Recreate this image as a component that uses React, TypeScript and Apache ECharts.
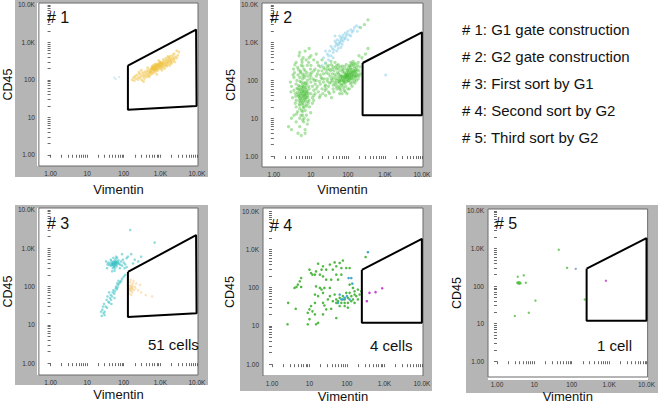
import React, { useEffect, useRef } from 'react';
import * as echarts from 'echarts';

// ---------- tick labels ----------
const TICK_VALUES = [1, 10, 100, 1000, 10000];
const TICK_LABELS = ['1.00', '10', '100', '1.0K', '10.0K'];
const MINOR_MULTIPLIERS = [2, 3, 4, 5, 6, 7, 8, 9];
const X_NAME = 'Vimentin';
const Y_NAME = 'CD45';
const PANEL_TITLES = ['# 1', '# 2', '# 3', '# 4', '# 5'];
const CELL_COUNTS = ['', '', '51 cells', '4 cells', '1 cell'];
const LEGEND_LINES = [
  '# 1: G1 gate construction',
  '# 2: G2 gate construction',
  '# 3: First sort by G1',
  '# 4: Second sort by G2',
  '# 5: Third sort by G2',
];

// ---------- gates (Vimentin, CD45) ----------
const GATE_G1 = [[130, 240], [9500, 2200], [9800, 20], [130, 16], [130, 240]];
const GATE_G2 = [[250, 290], [10000, 1880], [10000, 12], [250, 12], [250, 290]];

// ---------- panel 1 ----------
const P1_YELLOW = [
  [170,100],[185,115],[195,95],[205,125],[215,108],[230,135],[245,102],[255,118],[270,145],[285,112],
  [300,130],[310,98],[325,155],[340,122],[350,140],[365,108],[380,165],[390,128],[405,148],[420,118],
  [435,175],[450,138],[465,158],[480,128],[495,185],[510,148],[530,168],[550,138],[570,205],[590,158],
  [610,182],[630,148],[650,215],[670,172],[690,198],[710,162],[730,235],[750,188],[770,208],[790,172],
  [810,255],[830,198],[850,228],[870,182],[900,248],[920,208],[950,268],[980,218],[1000,238],[1020,198],
  [1050,285],[1080,228],[1100,258],[1130,212],[1160,298],[1200,248],[1230,278],[1260,228],[1300,318],[1340,258],
  [1380,288],[1420,242],[1460,338],[1500,278],[1550,308],[1600,258],[1650,355],[1700,298],[1760,328],[1820,278],
  [1880,375],[1950,318],[2000,348],[2100,298],[2200,395],[2300,338],[2400,368],[2600,415],[2800,378],[3000,448],
  [900,330],[1100,180],[700,260],[500,120],[1400,380],[1800,240],[600,230],[1200,350],[2500,300],[800,140],
  [300,180],[1000,300],[1300,200],[1600,420],[2000,270],[450,210],[350,90],[260,160],[1500,230],[1700,400],
  [620,200],[680,225],[720,190],[760,240],[820,215],[880,265],[940,230],[560,180],[600,210],[660,185],
  [740,205],[780,260],[840,240],[960,290],[1040,250],[1120,275],[540,160],[580,195],[640,240],[700,210],
  [3200,550],[2800,600],[2400,500],[2200,460],[1900,430],
];
const P1_OTHER = [[55,115],[75,118],[60,105]];

// ---------- panel 2 ----------
const P2_GREEN = [
  [6,40],[5,35],[7,45],[6,55],[5.5,30],[6.5,38],[7,60],[4.5,42],[5,50],[6,25],[7.5,35],[5,70],[6,80],[4,30],
  [8,50],[6.5,20],[5.5,90],[7,28],[4.5,60],[6,110],[5,18],[8,40],[3.8,45],[7,75],[6,150],[5,120],[9,60],[4,80],
  [6.5,200],[5.5,250],[7,180],[4.5,140],[8,100],[3.5,55],[9,30],[5,22],[6,15],[7,16],[4,20],[10,45],[11,70],
  [8.5,25],[3.2,35],[5.8,300],[6.2,400],[7.5,350],[4.8,450],[8,250],[6.8,120],[5.2,160],[9.5,150],[4.2,100],
  [3.5,120],[10,90],[7.2,85],[6.4,65],[5.6,48],[4.6,38],[7.8,55],[8.8,70],[3.8,25],[5.4,12],[6.6,10],[4.4,15],
  [9.2,20],[11,35],[12,55],[10,130],[3,70],[3.4,200],[4,300],[5,550],[7,600],[9,400],[10,250],[12,180],[6,33],
  [6,46],[5,40],[7,40],[6,70],[5.3,27],[6.8,32],[7.6,48],[4.9,57],[5.7,65],[6.3,52],[6.9,42],[5.1,33],[4.3,48],
  [8.2,36],[5.9,23],[7.3,23],[6.1,130],[8.3,130],[4.7,190],[9.8,200],[11.5,110],[3.6,160],[2.8,90],[13,80],
  [12,40],[14,60],
  [5.2,44],[6.7,51],[5.8,37],[7.1,33],[4.8,29],[6.2,28],[5.4,58],[7.4,66],[4.7,73],[6.6,88],[5.1,95],[7.9,82],
  [4.2,62],[8.6,45],[3.9,38],[6.3,19],[5.6,16],[7.7,21],[4.9,24],[8.1,28],[6.9,140],[5.3,175],[7.8,160],[4.4,220],
  [6.1,240],[8.7,300],[5.7,350],[3.7,260],[9.4,110],[10.5,160],[3.3,140],[2.9,50],[11,25],[9.9,14],[4.1,13],
  [6.4,8],[5,10],[7.6,12],[8.4,9],[12.5,100],
  [4,8],[5,6],[6,9],[3,10],[7,5],[4.5,4],[8,7],[3.5,12],[5.5,3.5],[2.5,6],[6,12],[7,4],[3,5],
  [13,45],[15,70],[14,100],[16,50],[18,80],[17,35],[19,120],[20,60],[15,150],[22,90],[13,200],[16,250],[18,40],
  [21,45],[25,75],[23,110],[12,30],[20,180],[24,55],[17,95],
  [14,130],[16,180],[18,140],[20,110],[22,150],[24,200],[26,160],[28,230],[30,150],[32,200],[34,180],[36,260],
  [38,200],[42,180],[46,220],[50,250],[55,210],[62,230],[70,200],[80,230],[12,350],[10,450],[14,500],[9,700],
  [80,110],[70,100],[90,120],[100,130],[60,90],[110,140],[75,80],[85,150],[95,95],[65,120],[120,160],[130,110],
  [55,70],[50,100],[45,80],[40,60],[35,90],[30,70],[28,110],[33,130],[38,150],[42,50],[48,130],[52,160],[58,60],
  [62,140],[68,75],[72,170],[78,130],[82,90],[88,70],[92,160],[98,180],[105,100],[115,120],[125,200],[140,150],
  [150,180],[160,130],[170,220],[145,240],[135,90],[105,220],[90,200],[75,190],[60,180],[50,200],[40,120],[30,50],
  [25,40],[100,60],[120,80],[150,100],[110,250],[130,280],[80,55],[95,45],[70,45],[55,110],[65,55],[85,85],
  [100,100],[115,90],[125,140],[140,120],[155,160],[175,150],[165,190],[110,180],[95,140],[80,160],[72,115],
  [66,105],[58,125],[46,110],[38,100],[44,145],[52,85],[62,65],[76,65],[88,105],[96,115],[104,160],[118,200],
  [132,170],[148,210],[160,280],[180,250],[26,60],[32,45],[36,35],[120,300],[140,320],[90,260],[70,240],[85,125],
  [92,135],[78,98],[68,130],[106,118],[112,108],[126,128],[58,95],[48,70],
  [75,95],[82,120],[88,140],[95,125],[102,150],[108,130],[115,150],[122,110],[128,165],[135,135],[142,175],
  [150,140],[158,120],[165,170],[172,130],[180,190],[190,140],[60,100],[64,80],[70,130],[56,150],[50,60],[44,90],
  [40,75],[36,110],[32,85],[28,95],[24,70],[60,45],[85,50],[110,60],[130,70],[155,85],[170,100],[190,110],
  [200,130],[145,270],[115,230],[100,190],[125,250],
  [15,300],[20,350],[25,280],[30,250],[35,320],[40,230],[45,300],[22,220],[28,190],[18,230],[55,260],[200,180],
  [220,150],[190,300],[210,230],[240,400],[300,500],[350,700],[200,450],[280,3000],[350,4000],[220,2500],
];
const P2_CYAN = [
  [20,250],[25,300],[22,400],[30,350],[28,500],[35,450],[32,600],[40,550],[38,700],[45,800],[42,650],[50,900],
  [48,1000],[55,850],[52,1200],[60,1100],[58,950],[65,1300],[62,1000],[70,1400],[68,1150],[75,1600],[80,1300],
  [85,1800],[90,1500],[100,2000],[95,1700],[110,1600],[120,2200],[130,1900],[150,2500],[170,2800],[200,2600],
  [180,2000],[45,1100],[55,700],[35,800],[40,400],[60,1500],[70,900],[50,600],[30,450],[65,750],[75,1100],
  [85,1300],[100,1200],[120,1500],[140,2100],[25,600],[45,1500],[1050,140],
];

// ---------- panel 3 ----------
const P3_TEAL = [
  [55,400],[50,380],[60,420],[45,350],[65,450],[58,360],[52,440],[48,410],[62,380],[56,470],[42,400],[68,390],
  [54,330],[46,460],[60,520],[70,430],[40,360],[64,340],[50,300],[58,300],[72,480],[38,420],[44,500],[66,560],
  [52,560],[75,400],[80,370],[36,380],[62,600],[48,250],[56,260],[85,450],[90,350],[100,420],[110,380],[120,320],
  [35,300],[33,450],[78,300],[95,500],[105,300],[53,415],[57,390],[61,405],[49,395],[47,370],[59,445],[63,425],
  [51,355],[55,345],
  [25,17],[28,20],[26,25],[30,22],[32,30],[29,35],[35,28],[38,40],[34,45],[40,38],[42,50],[45,45],[44,60],
  [48,55],[50,70],[55,65],[52,80],[58,75],[60,90],[65,85],[62,100],[70,110],[68,95],[75,120],[80,130],[85,140],
  [90,160],[27,30],[36,55],[46,35],[56,50],[72,140],[24,22],[30,18],[66,120],[40,70],[100,180],[110,200],
  [130,600],[160,700],[200,500],[250,450],[150,3000],[700,1400],[120,550],[90,700],[300,600],[180,400],
];
const P3_ORANGE = [
  [150,90],[160,100],[170,85],[140,80],[165,110],[175,95],[155,75],[180,120],[145,105],[190,80],[160,60],
  [150,130],[135,95],[200,100],[170,70],[185,140],[210,90],[140,65],[155,150],[130,110],[250,80],[300,70],
  [400,60],[600,55],[220,120],[280,110],[160,90],[170,100],[150,85],[165,80],
];

// ---------- panel 4 ----------
const P4_GREEN = [
  [17,420],[23,360],[35,400],[47,455],[64,440],[78,510],[52,360],[42,295],[71,325],[96,325],[118,325],[28,295],
  [21,295],[15,265],[14,218],[19,218],[23,197],[28,161],[38,161],[52,218],[71,218],[58,161],[19,98],[25,98],
  [35,98],[15,108],[23,73],[14,66],[17,60],[35,60],[47,66],[10,294],[11,240],[12,218],
  [6,178],[5.5,146],[4.9,120],[4.5,104],[6,104],[4,98],
  [2.7,40],[2.6,11],[4.3,28],
  [14,40],[11,33],[10,27],[12,24],[9,22],[14,20],[10,15],[9,11],[15,11],[17,12],[23,20],[28,27],[25,34],[38,28],
  [52,40],[52,16],[64,33],[87,33],[106,30],[23,40],[31,49],[21,89],
  [118,120],[145,98],[160,80],[196,89],[218,66],[177,60],[131,60],[106,54],[87,49],[145,49],[196,49],[96,73],
  [118,73],[160,66],[241,80],[78,60],[64,54],[58,44],[71,40],[42,44],[52,49],[131,44],[106,40],[87,40],[160,40],
  [315,630],
];
const P4_CYAN = [
  [111,178],[131,178],[100,60],[78,49],[87,54],[71,49],[58,40],[118,49],[64,66],[363,840],[139,127],
];
const P4_MAGENTA = [[400,73],[580,76],[875,96],[340,44]];

// ---------- panel 5 ----------
const P5_GREEN = [
  [3.9,121],[3.7,118],[4.1,124],[3.5,123],[4.3,119],[3.8,127],[4.0,115],[3.6,120],
  [3.6,177],[5.2,192],[5.9,123],[10.7,41],[7.1,19.5],[3,16],[45,920],[75,305],[222,44],
];
const P5_BLUE = [[128,287]];
const P5_MAGENTA = [[820,139]];

// ---------- layout (positions only) ----------
const LAYOUT = [
  { frame: [15, 0, 193, 177], grid: [37, 3, 161, 163], xr: [-0.32, 4.03], yr: [-0.3, 4.05], xGap: 17, yGap: 23, title: [47, 17], cells: null },
  { frame: [240, 0, 192, 177], grid: [262, 3, 161, 164], xr: [-0.32, 4.03], yr: [-0.29, 4.05], xGap: 16, yGap: 24, title: [270, 17], cells: null },
  { frame: [15, 205, 193, 180], grid: [37, 208, 161, 167], xr: [-0.32, 4.03], yr: [-0.31, 4.05], xGap: 13, yGap: 23, title: [47, 223], cells: [148, 344] },
  { frame: [240, 205, 192, 186], grid: [263, 208, 160, 169], xr: [-0.24, 4.03], yr: [-0.31, 4.08], xGap: 14, yGap: 27, title: [270, 225], cells: [370, 345] },
  { frame: [466, 205, 192, 188], grid: [488, 209, 160, 171], xr: [-0.24, 4.03], yr: [-0.42, 4.05], xGap: 13, yGap: 25, title: [495, 223], cells: [597, 345] },
];

const FONT = '"Liberation Sans", Arial, Helvetica, sans-serif';

const toLog = (pts: number[][]) => pts.map(([x, y]) => [Math.log10(x), Math.log10(y)]);

const MAJOR_POS = TICK_VALUES.map((v) => Math.log10(v));
const MINOR_POS: number[] = [];
TICK_VALUES.slice(0, 4).forEach((d) => MINOR_MULTIPLIERS.forEach((m) => MINOR_POS.push(Math.log10(d * m))));
const ALL_TICKS = [...MAJOR_POS, ...MINOR_POS];

const fmt = (v: number) => {
  const i = MAJOR_POS.findIndex((p) => Math.abs(p - v) < 1e-6);
  return i >= 0 ? TICK_LABELS[i] : '';
};

export default function App() {
  const ref = useRef<HTMLDivElement>(null);
  useEffect(() => {
    if (!ref.current) return;
    const chart = echarts.init(ref.current, undefined, { renderer: 'svg' });

    const grids: any[] = [];
    const xAxes: any[] = [];
    const yAxes: any[] = [];
    const graphics: any[] = [];

    LAYOUT.forEach((L, i) => {
      grids.push({ left: L.grid[0], top: L.grid[1], width: L.grid[2], height: L.grid[3], show: true, backgroundColor: 'transparent', borderColor: '#6a6a6a', borderWidth: 1, containLabel: false });
      const axisCommon = {
        type: 'value',
        gridIndex: i,
        axisLine: { show: false },
        splitLine: { show: false },
        axisTick: { show: true, inside: false, length: 3, customValues: ALL_TICKS, lineStyle: { color: '#444', width: 0.8 } },
        axisLabel: { customValues: MAJOR_POS, formatter: fmt, fontSize: 6.5, color: '#333', margin: 4, fontFamily: FONT },
        nameLocation: 'middle',
      };
      xAxes.push({ ...axisCommon, min: L.xr[0], max: L.xr[1], name: X_NAME, nameGap: L.xGap, nameTextStyle: { fontSize: 13, color: '#111', fontFamily: FONT } });
      yAxes.push({ ...axisCommon, min: L.yr[0], max: L.yr[1], name: Y_NAME, nameGap: L.yGap, nameTextStyle: { fontSize: 12.5, color: '#111', fontFamily: FONT } });

      graphics.push({ type: 'rect', z: -20, silent: true, shape: { x: L.frame[0], y: L.frame[1], width: L.frame[2], height: L.frame[3] }, style: { fill: '#b5b5b5' } });
      graphics.push({ type: 'rect', z: -19, silent: true, shape: { x: L.grid[0], y: L.grid[1], width: L.grid[2], height: L.grid[3] }, style: { fill: '#ffffff' } });
      graphics.push({ type: 'text', z: 10, x: L.title[0], y: L.title[1], style: { text: PANEL_TITLES[i], fill: '#111', font: `16px ${FONT}`, verticalAlign: 'middle' } });
      if (L.cells) {
        graphics.push({ type: 'text', z: 10, x: L.cells[0], y: L.cells[1], style: { text: CELL_COUNTS[i], fill: '#111', font: `15px ${FONT}`, verticalAlign: 'middle' } });
      }
    });

    const LEGEND_Y = [29.5, 56.7, 83.7, 110.7, 137];
    LEGEND_LINES.forEach((t, k) => {
      graphics.push({ type: 'text', x: 462, y: LEGEND_Y[k], style: { text: t, fill: '#111', font: `15px ${FONT}`, verticalAlign: 'middle' } });
    });

    const scatter = (idx: number, data: number[][], color: string, size: number, opacity: number) => ({
      type: 'scatter', xAxisIndex: idx, yAxisIndex: idx, data: toLog(data), symbolSize: size,
      itemStyle: { color, opacity }, silent: true,
    });
    const gate = (idx: number, data: number[][]) => ({
      type: 'line', xAxisIndex: idx, yAxisIndex: idx, data: toLog(data), symbol: 'none', clip: false, z: 5,
      lineStyle: { color: '#000', width: 2 }, silent: true,
    });

    const series = [
      scatter(0, P1_OTHER, '#9fd6e2', 2, 0.5),
      scatter(0, P1_YELLOW, '#f0bf35', 2.8, 0.5),
      gate(0, GATE_G1),
      scatter(1, P2_GREEN, '#40bd2e', 3.3, 0.42),
      scatter(1, P2_CYAN, '#8ad0e8', 3, 0.55),
      gate(1, GATE_G2),
      scatter(2, P3_TEAL, '#33c0c2', 2.6, 0.55),
      scatter(2, P3_ORANGE, '#f8cc80', 2.6, 0.5),
      gate(2, GATE_G1),
      scatter(3, P4_GREEN, '#4ab53c', 2.6, 0.95),
      scatter(3, P4_CYAN, '#3aa3cc', 2.6, 0.95),
      scatter(3, P4_MAGENTA, '#c43fd0', 2.6, 0.95),
      gate(3, GATE_G2),
      scatter(4, P5_GREEN, '#5cbf4a', 2.4, 0.85),
      scatter(4, P5_BLUE, '#7f9fbf', 2.4, 0.85),
      scatter(4, P5_MAGENTA, '#c050c8', 2.4, 0.9),
      gate(4, GATE_G2),
    ];

    chart.setOption({
      animation: false,
      backgroundColor: '#ffffff',
      textStyle: { fontFamily: FONT },
      grid: grids,
      xAxis: xAxes,
      yAxis: yAxes,
      series,
      graphic: { elements: graphics },
    });
    return () => chart.dispose();
  }, []);
  return <div ref={ref} style={{ position: 'absolute', left: 0, top: 0, width: 658, height: 404 }} />;
}
